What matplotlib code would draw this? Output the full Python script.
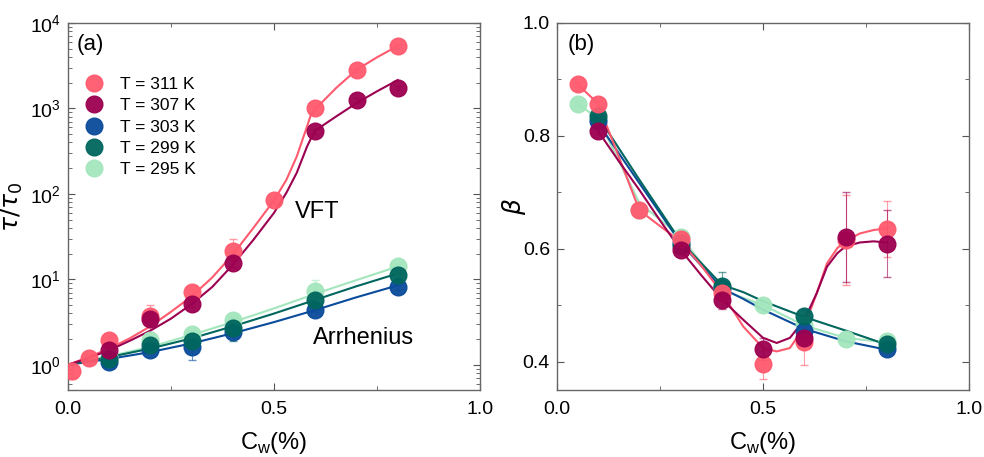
import matplotlib
matplotlib.use("Agg")
import matplotlib.pyplot as plt
from matplotlib.ticker import MultipleLocator, LogLocator, NullFormatter, FormatStrFormatter

plt.rcParams['font.family'] = ['Liberation Sans', 'DejaVu Sans']
plt.rcParams['mathtext.fontset'] = 'dejavusans'

# colours per temperature
colors = {311: '#ff5a6e', 307: '#9c0050', 303: '#0a4b9a', 299: '#00665e', 295: '#a3e6bd'}
temps = [311, 307, 303, 299, 295]
draw_order = [295, 303, 299, 311, 307]

# ---- panel (a): tau/tau0 vs Cw ----
cw_a = {
    311: [0.01, 0.05, 0.1, 0.2, 0.3, 0.4, 0.5, 0.6, 0.7, 0.8],
    307: [0.1, 0.2, 0.3, 0.4, 0.6, 0.7, 0.8],
    303: [0.1, 0.2, 0.3, 0.4, 0.6, 0.8],
    299: [0.1, 0.2, 0.3, 0.4, 0.6, 0.8],
    295: [0.1, 0.2, 0.3, 0.4, 0.6, 0.8],
}
tau_a = {
    311: [0.84, 1.2, 1.93, 3.7, 7.1, 21.5, 85, 1000, 2800, 5350],
    307: [1.5, 3.4, 5.1, 15.5, 540, 1250, 1750],
    303: [1.07, 1.5, 1.6, 2.4, 4.4, 8.1],
    299: [1.16, 1.7, 1.9, 2.7, 5.8, 11.3],
    295: [1.23, 1.96, 2.3, 3.3, 7.4, 14.2],
}
err_a = {
    311: [0.15, 0.1, 0.2, 1.3, 0.6, 8.0, 5, 60, 150, 300],
    307: [0.1, 0.3, 0.4, 1.5, 40, 80, 100],
    303: [0.05, 0.1, 0.45, 0.2, 0.3, 0.5],
    299: [0.05, 0.2, 0.2, 0.8, 0.6, 0.8],
    295: [0.05, 0.2, 0.2, 0.4, 2.5, 1.0],
}

# fitted curves (VFT / Arrhenius)
fit_x_vft = [0, 0.05, 0.1, 0.15, 0.2, 0.25, 0.3, 0.35, 0.4, 0.45, 0.5, 0.53, 0.555, 0.58, 0.59, 0.6,
             0.65, 0.7, 0.75, 0.8]
fit_a = {
    311: [1.0, 1.23, 1.55, 2.04, 2.82, 4.17, 6.31, 10.5, 19.5, 40, 84, 146, 273, 613, 860, 980,
          1720, 2820, 3960, 5370],
    307: [1.0, 1.20, 1.48, 1.91, 2.51, 3.47, 5.13, 8.13, 14.8, 29, 60, 103, 176, 357, 450, 550,
          800, 1150, 1585, 2140],
}
fit_x_arr = [0, 0.1, 0.2, 0.3, 0.4, 0.5, 0.6, 0.7, 0.8]
fit_a[303] = [1.0, 1.17, 1.41, 1.78, 2.34, 3.16, 4.37, 6.17, 8.5]
fit_a[299] = [1.0, 1.23, 1.55, 2.04, 2.82, 3.98, 5.75, 8.3, 11.7]
fit_a[295] = [1.0, 1.26, 1.62, 2.24, 3.16, 4.57, 6.76, 9.8, 14.1]

# ---- panel (b): beta vs Cw ----
cw_b = {
    311: [0.05, 0.1, 0.2, 0.3, 0.4, 0.5, 0.6, 0.7, 0.8],
    307: [0.1, 0.3, 0.4, 0.5, 0.6, 0.7, 0.8],
    303: [0.1, 0.3, 0.4, 0.6, 0.8],
    299: [0.1, 0.3, 0.4, 0.6, 0.8],
    295: [0.05, 0.1, 0.2, 0.3, 0.4, 0.5, 0.6, 0.7, 0.8],
}
beta_b = {
    311: [0.891, 0.857, 0.668, 0.617, 0.522, 0.395, 0.434, 0.615, 0.635],
    307: [0.808, 0.598, 0.509, 0.422, 0.441, 0.621, 0.609],
    303: [0.826, 0.61, 0.53, 0.454, 0.423],
    299: [0.835, 0.605, 0.534, 0.481, 0.431],
    295: [0.857, 0.83, 0.668, 0.621, 0.53, 0.501, 0.465, 0.44, 0.437],
}
err_b = {
    311: [0.005, 0.005, 0.005, 0.005, 0.01, 0.025, 0.04, 0.08, 0.05],
    307: [0.005, 0.005, 0.015, 0.02, 0.01, 0.08, 0.06],
    303: [0.005, 0.005, 0.01, 0.01, 0.005],
    299: [0.005, 0.005, 0.025, 0.01, 0.005],
    295: [0.005, 0.005, 0.005, 0.005, 0.01, 0.005, 0.005, 0.005, 0.005],
}
fit_x_b = {
    311: [0.05, 0.1, 0.15, 0.2, 0.25, 0.3, 0.35, 0.4, 0.452, 0.5, 0.533, 0.565, 0.6, 0.63, 0.655,
          0.68, 0.7, 0.735, 0.768, 0.8],
    307: [0.1, 0.15, 0.2, 0.25, 0.3, 0.35, 0.4, 0.452, 0.5, 0.533, 0.565, 0.6, 0.63, 0.655,
          0.68, 0.7, 0.735, 0.768, 0.8],
    303: [0.1, 0.2, 0.3, 0.4, 0.452, 0.5, 0.6, 0.7, 0.8],
    299: [0.1, 0.2, 0.3, 0.4, 0.452, 0.5, 0.6, 0.7, 0.8],
    295: [0.05, 0.1, 0.2, 0.3, 0.4, 0.5, 0.6, 0.7, 0.8],
}
fit_b = {
    311: [0.891, 0.857, 0.763, 0.668, 0.64, 0.613, 0.57, 0.522, 0.462, 0.424, 0.418, 0.424, 0.462,
          0.521, 0.574, 0.601, 0.614, 0.627, 0.633, 0.636],
    307: [0.808, 0.755, 0.704, 0.65, 0.598, 0.553, 0.51, 0.474, 0.442, 0.433, 0.442, 0.474,
          0.521, 0.568, 0.592, 0.604, 0.611, 0.613, 0.611],
    303: [0.822, 0.716, 0.61, 0.530, 0.511, 0.492, 0.458, 0.436, 0.421],
    299: [0.834, 0.722, 0.613, 0.536, 0.523, 0.507, 0.479, 0.455, 0.43],
    295: [0.857, 0.83, 0.681, 0.622, 0.527, 0.5, 0.464, 0.442, 0.434],
}

fig = plt.figure(figsize=(9.84, 4.57), dpi=100)
ax1 = fig.add_axes([0.069, 0.147, 0.419, 0.803])
ax2 = fig.add_axes([0.566, 0.147, 0.419, 0.803])

for T in draw_order:
    c = colors[T]
    fx = fit_x_vft if T in (311, 307) else fit_x_arr
    ax1.plot(fx, fit_a[T], color=c, lw=1.5, zorder=2)
    ax1.errorbar(cw_a[T], tau_a[T], yerr=err_a[T], fmt='none', ecolor=c,
                 elinewidth=0.8, capsize=3, alpha=0.6, zorder=2)
    ax1.plot(cw_a[T], tau_a[T], 'o', color=c, ms=12, alpha=0.95, zorder=3,
             label=f'T = {T} K')

    ax2.plot(fit_x_b[T], fit_b[T], color=c, lw=1.5, zorder=2)
    ax2.errorbar(cw_b[T], beta_b[T], yerr=err_b[T], fmt='none', ecolor=c,
                 elinewidth=0.8, capsize=3, alpha=0.6, zorder=2)
    ax2.plot(cw_b[T], beta_b[T], 'o', color=c, ms=12, alpha=0.95, zorder=3)

ax1.set_yscale('log')
ax1.set_ylim(0.51, 1e4)
ax1.yaxis.set_major_locator(LogLocator(base=10, numticks=10))
ax1.yaxis.set_minor_locator(LogLocator(base=10, subs=range(2, 10), numticks=20))
ax1.yaxis.set_minor_formatter(NullFormatter())

ax2.set_ylim(0.35, 1.0)
ax2.yaxis.set_major_locator(MultipleLocator(0.2))
ax2.yaxis.set_minor_locator(MultipleLocator(0.1))
ax2.yaxis.set_major_formatter(FormatStrFormatter('%.1f'))

for ax in (ax1, ax2):
    ax.set_xlim(0, 1.0)
    ax.xaxis.set_major_locator(MultipleLocator(0.5))
    ax.xaxis.set_minor_locator(MultipleLocator(0.25))
    ax.xaxis.set_major_formatter(FormatStrFormatter('%.1f'))
    ax.tick_params(which='both', direction='in', top=True, right=True,
                   color='#555555', labelsize=14)
    ax.tick_params(axis='x', pad=8)
    ax.tick_params(axis='y', pad=5)
    ax.tick_params(which='major', length=5)
    ax.tick_params(which='minor', length=3)
    for s in ax.spines.values():
        s.set_color('#666666')
        s.set_linewidth(1.0)
    ax.set_xlabel(r'C$_\mathregular{w}$(%)', fontsize=17, labelpad=9)

ax1.set_ylabel(r'$\tau/\tau_0$', fontsize=18)
ax1.yaxis.set_label_coords(-0.105, 0.5)
ax2.set_ylabel(r'$\beta$', fontsize=18)
ax2.yaxis.set_label_coords(-0.07, 0.5)

handles, labels = ax1.get_legend_handles_labels()
order = [labels.index(f'T = {T} K') for T in temps]
ax1.legend([handles[i] for i in order], [labels[i] for i in order],
           loc='upper left', bbox_to_anchor=(0.0, 0.895), frameon=False,
           fontsize=12.5, handletextpad=0.9, labelspacing=0.35, markerscale=1.0,
           handlelength=1.2)

ax1.text(0.022, 0.94, '(a)', transform=ax1.transAxes, fontsize=16, va='center')
ax2.text(0.027, 0.94, '(b)', transform=ax2.transAxes, fontsize=16, va='center')
ax1.text(0.551, 0.485, 'VFT', transform=ax1.transAxes, fontsize=17, va='center')
ax1.text(0.595, 0.142, 'Arrhenius', transform=ax1.transAxes, fontsize=17, va='center')

fig.savefig('out.png', dpi=100)
